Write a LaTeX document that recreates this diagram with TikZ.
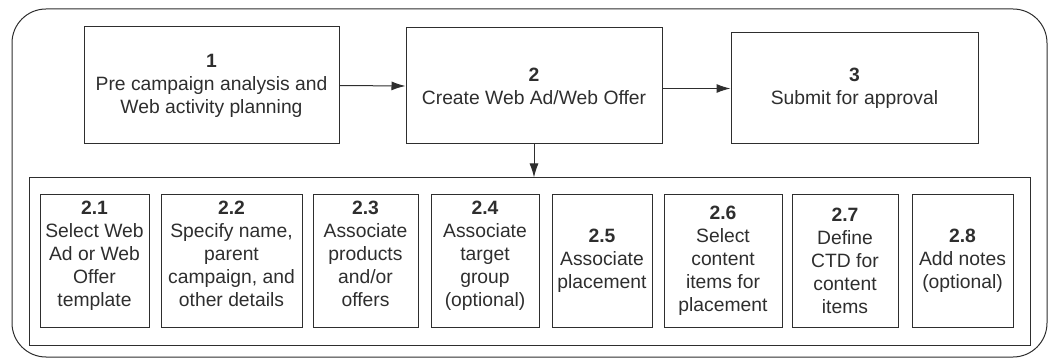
\documentclass[tikz,border=0pt]{standalone}
\usepackage{fontspec}
\setmainfont{Liberation Sans}
\usetikzlibrary{arrows.meta}
\definecolor{ink}{HTML}{2E2E2E}
\begin{document}
\begin{tikzpicture}[x=1pt,y=-1pt,
  line width=1pt,
  every node/.style={font=\fontsize{19.3}{23}\selectfont, text=ink},
  stage/.style={draw=ink, inner sep=0pt, align=center},
  substage/.style={draw=ink, inner sep=0pt, align=center, minimum height=132pt},
  raised/.style={text depth=14pt},
  flow/.style={draw=ink, -{Latex[length=14pt,width=9pt]}}]
\useasboundingbox (0,0) rectangle (1050,358);
% enclosing frame
\draw[draw=ink, rounded corners=34pt] (12,9) rectangle (1047,357);
% main stages
\node[stage, minimum width=255pt, minimum height=117pt] (s1) at (211.5,85.5)
  {\textbf{1}\\Pre campaign analysis and\\Web activity planning};
\node[stage, minimum width=256pt, minimum height=116pt] (s2) at (534,86)
  {\textbf{2}\\Create Web Ad/Web Offer};
\node[stage, minimum width=247pt, minimum height=111pt] (s3) at (854.5,88.5)
  {\textbf{3}\\Submit for approval};
% container of the sub-steps of stage 2
\node[draw=ink, minimum width=1001pt, minimum height=167pt, inner sep=0pt] (sub) at (529.5,261.5) {};
% sub-steps
\node[substage, raised, minimum width=109pt] (s21) at (94.5,261)
  {\textbf{2.1}\\Select Web\\Ad or Web\\Offer\\template};
\node[substage, raised, minimum width=141pt] (s22) at (231.5,261)
  {\textbf{2.2}\\Specify name,\\parent\\campaign, and\\other details};
\node[substage, raised, minimum width=105pt] (s23) at (365.5,261)
  {\textbf{2.3}\\Associate\\products\\and/or\\offers};
\node[substage, raised, minimum width=108pt] (s24) at (485,261)
  {\textbf{2.4}\\Associate\\target\\group\\(optional)};
\node[substage, minimum width=100pt] (s25) at (602,261)
  {\textbf{2.5}\\Associate\\placement};
\node[substage, minimum width=118pt] (s26) at (723,261)
  {\textbf{2.6}\\Select\\content\\items for\\placement};
\node[substage, minimum width=106pt] (s27) at (845,261)
  {\textbf{2.7}\\Define\\CTD for\\content\\items};
\node[substage, minimum width=101pt] (s28) at (962.5,261)
  {\textbf{2.8}\\Add notes\\(optional)};
% connectors
\draw[flow] (s1.east) -- (s2.west);
\draw[flow] (s2.east |- s3.west) -- (s3.west);
\draw[flow] (s2.south) -- (s2.south |- sub.north);
\end{tikzpicture}
\end{document}
